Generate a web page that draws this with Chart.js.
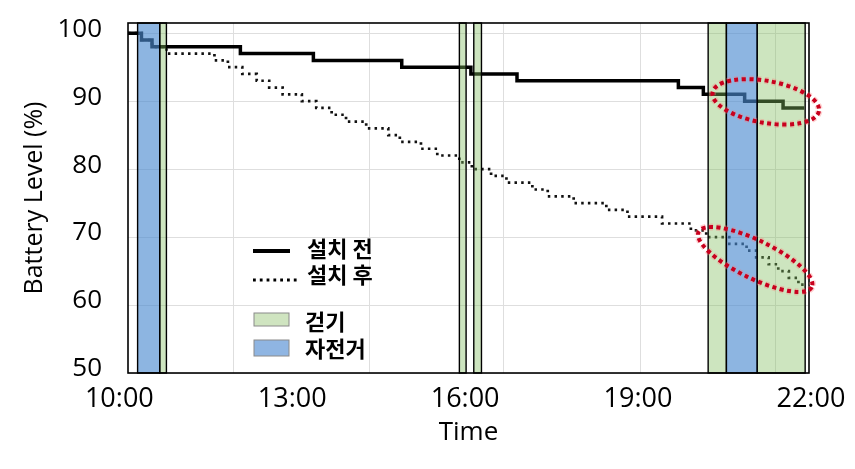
<!DOCTYPE html>
<html>
<head>
<meta charset="utf-8">
<script src="https://cdn.jsdelivr.net/npm/chart.js@4.4.1/dist/chart.umd.min.js"></script>
<style>
  html, body { margin: 0; padding: 0; background: #fff; }
</style>
</head>
<body>
<canvas id="chart" width="855" height="469"></canvas>
<script>
// battery level, one point per 1% drop ("HH:MM")
var beforeTimes = ['10:09', '10:23', '10:34', '12:06', '13:22', '14:54', '16:06', '16:54', '19:42', '20:08', '20:51', '21:31', '21:53']
var beforeLevels = [100, 99, 98, 97, 96, 95, 94, 93, 92, 91, 90, 89, 89]

var afterTimes = ['10:09', '10:23', '10:34', '10:49', '11:39', '11:53', '12:08', '12:23', '12:36', '12:50',
	'13:10', '13:25', '13:41', '13:56', '14:17', '14:40', '14:52', '15:14', '15:31', '15:54',
	'16:07', '16:27', '16:43', '17:10', '17:26', '17:53', '18:27', '18:49', '19:25', '19:55',
	'20:11', '20:35', '20:53', '21:03', '21:16', '21:26', '21:37', '21:47', '21:53']
var afterLevels = [100, 99, 98, 97, 96, 95, 94, 93, 92, 91,
	90, 89, 88, 87, 86, 85, 84, 83, 82, 81,
	80, 79, 78, 77, 76, 75, 74, 73, 72, 71,
	70, 69, 68, 67, 66, 65, 64, 63, 63]

// activity periods
var walkStart = ['10:42', '15:54', '16:09', '20:13', '21:04']
var walkEnd = ['10:49', '16:01', '16:17', '20:32', '21:54']
var bikeStart = ['10:19', '20:32']
var bikeEnd = ['10:42', '21:04']

var seriesNames = ['설치 전', '설치 후']
var activityNames = ['걷기', '자전거']

var xTicks = ['10:00', '13:00', '16:00', '19:00', '22:00']
var xGridTimes = ['11:59', '14:20', '16:40', '19:03', '21:23']
var yTicks = [50, 60, 70, 80, 90, 100]

// highlighted regions: [time, level]
var marks = [['21:13', 89.9], ['21:02', 66.7]]

function hrs(t) {
	var p = t.split(':')
	return +p[0] + p[1] / 60
}
function fmt(h) {
	var m = Math.round(h * 60)
	var mm = m % 60
	return Math.floor(m / 60) + ':' + (mm < 10 ? '0' : '') + mm
}
function points(times, levels) {
	return times.map(function (t, i) { return { x: hrs(t), y: levels[i] } })
}

var xMin = hrs('10:09'), xMax = hrs('21:58')
var walkFill = 'rgba(130,190,95,0.4)'
var bikeFill = 'rgba(75,138,208,0.63)'

var overlay = {
	id: 'overlay',
	afterDatasetsDraw: function (chart) {
		var c = chart.ctx, xs = chart.scales.x, a = chart.chartArea
		c.save()
		function band(s, e, fill) {
			var x0 = xs.getPixelForValue(hrs(s)), x1 = xs.getPixelForValue(hrs(e))
			c.fillStyle = fill
			c.fillRect(x0, a.top, x1 - x0, a.bottom - a.top)
			c.strokeStyle = '#000'
			c.lineWidth = 1.4
			c.strokeRect(x0, a.top, x1 - x0, a.bottom - a.top)
		}
		walkStart.forEach(function (s, i) { band(s, walkEnd[i], walkFill) })
		bikeStart.forEach(function (s, i) { band(s, bikeEnd[i], bikeFill) })
		c.strokeStyle = '#000'
		c.lineWidth = 1.6
		c.strokeRect(a.left, a.top, a.right - a.left, a.bottom - a.top)
		c.restore()
	},
	afterDraw: function (chart) {
		var c = chart.ctx, xs = chart.scales.x, ys = chart.scales.y, a = chart.chartArea
		c.save()
		// red dotted ellipses
		var shapes = [[54, 21, 10], [63, 19, 26]]
		marks.forEach(function (m, i) {
			var cx = xs.getPixelForValue(hrs(m[0])), cy = ys.getPixelForValue(m[1])
			c.beginPath()
			c.ellipse(cx, cy, shapes[i][0], shapes[i][1], shapes[i][2] * Math.PI / 180, 0, Math.PI * 2)
			c.strokeStyle = 'rgba(255,120,120,0.35)'
			c.lineWidth = 7
			c.setLineDash([4, 3.5])
			c.stroke()
			c.strokeStyle = '#c8001e'
			c.lineWidth = 4
			c.stroke()
		})
		c.setLineDash([])

		// legend
		var lx = a.left + 125, ly = a.top + 228
		c.strokeStyle = '#000'
		c.lineWidth = 4
		c.beginPath(); c.moveTo(lx, ly); c.lineTo(lx + 37, ly); c.stroke()
		c.lineWidth = 3
		c.setLineDash([2.8, 4])
		c.beginPath(); c.moveTo(lx, ly + 29); c.lineTo(lx + 44, ly + 29); c.stroke()
		c.setLineDash([])
		c.lineWidth = 1
		c.strokeStyle = '#8a8a8a'
		c.fillStyle = '#cfe4c0'
		c.fillRect(lx + 1, ly + 62, 35, 13); c.strokeRect(lx + 1, ly + 62, 35, 13)
		c.fillStyle = '#8fb5e2'
		c.fillRect(lx + 1, ly + 89, 35, 16); c.strokeRect(lx + 1, ly + 89, 35, 16)

		c.fillStyle = '#000'
		c.font = 'bold 22px "Noto Sans CJK KR"'
		c.textBaseline = 'middle'
		c.textAlign = 'left'
		c.fillText(seriesNames[0], lx + 54, ly - 2)
		c.fillText(seriesNames[1], lx + 54, ly + 24)
		c.fillText(activityNames[0], lx + 52, ly + 71)
		c.fillText(activityNames[1], lx + 52, ly + 98)
		c.restore()
	}
}

Chart.defaults.font.family = '"Open Sans"'
Chart.defaults.color = '#000'

new Chart(document.getElementById('chart').getContext('2d'), {
	type: 'line',
	data: {
		datasets: [
			{
				label: seriesNames[0],
				data: points(beforeTimes, beforeLevels),
				borderColor: '#000',
				borderWidth: 3.5,
				stepped: true,
				pointRadius: 0,
			},
			{
				label: seriesNames[1],
				data: points(afterTimes, afterLevels),
				borderColor: '#111',
				borderWidth: 2.7,
				borderDash: [2.5, 4.2],
				stepped: true,
				pointRadius: 0,
			},
		],
	},
	options: {
		responsive: false,
		animation: false,
		layout: { padding: { left: 0, top: 23, right: 46, bottom: 0 } },
		plugins: { legend: { display: false }, tooltip: { enabled: false } },
		scales: {
			x: {
				type: 'linear',
				min: xMin,
				max: xMax,
				bounds: 'data',
				afterBuildTicks: function (s) { s.ticks = xTicks.map(function (t) { return { value: hrs(t) } }) },
				ticks: { autoSkip: false, maxRotation: 0, padding: 0, font: { size: 27 }, callback: function (v) { return fmt(v) } },
				grid: { color: 'rgba(0,0,0,0)', tickColor: 'rgba(0,0,0,0)', drawTicks: true, tickLength: 10 },
				border: { display: false },
				title: { display: true, text: 'Time', font: { size: 26 }, padding: { top: 0, bottom: 21 } },
				afterFit: function (s) { s.height = 96 },
			},
			xg: {
				type: 'linear',
				position: 'bottom',
				min: xMin,
				max: xMax,
				bounds: 'data',
				afterBuildTicks: function (s) { s.ticks = xGridTimes.map(function (t) { return { value: hrs(t) } }) },
				ticks: { display: false },
				grid: { color: '#dedede', lineWidth: 1, drawTicks: false },
				border: { display: false },
				afterFit: function (s) { s.height = 0 },
			},
			y: {
				min: 50,
				max: 101.5,
				afterBuildTicks: function (s) { s.ticks = yTicks.map(function (v) { return { value: v } }) },
				ticks: { padding: 0, font: { size: 26 }, labelOffset: -4 },
				grid: { color: '#dedede', tickColor: 'rgba(0,0,0,0)', drawTicks: true, tickLength: 26 },
				border: { display: false },
				title: { display: true, text: 'Battery Level (%)', font: { size: 25 }, padding: { top: 20, bottom: 0 } },
				afterFit: function (s) { s.width = 128 },
			},
		},
	},
	plugins: [overlay],
})
</script>
</body>
</html>
